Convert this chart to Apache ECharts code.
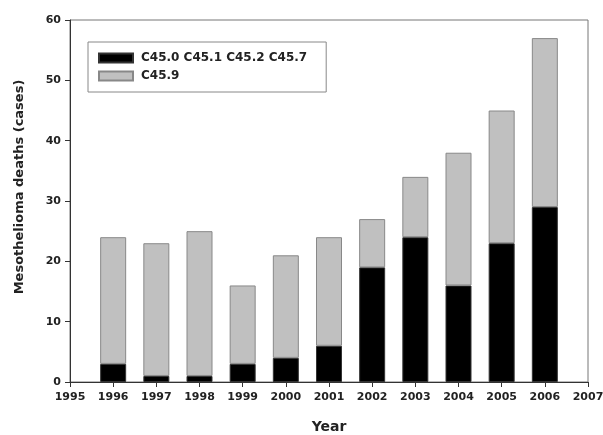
<!DOCTYPE html>
<html>
<head>
<meta charset="utf-8">
<script src="https://cdn.jsdelivr.net/npm/echarts@6/dist/echarts.min.js"></script>
<style>
  html, body { margin: 0; padding: 0; background: #fff; }
  #chart { width: 603px; height: 435px; }
</style>
</head>
<body>
<div id="chart"></div>
<script>
// axis runs 1995..2007, bars only for 1996..2006
const tickYears = ['1995', '1996', '1997', '1998', '1999', '2000', '2001', '2002', '2003', '2004', '2005', '2006', '2007'];
const years = ['1996', '1997', '1998', '1999', '2000', '2001', '2002', '2003', '2004', '2005', '2006'];
const specified = [3, 1, 1, 3, 4, 6, 19, 24, 16, 23, 29];
const unspecified = [21, 22, 24, 13, 17, 18, 8, 10, 22, 22, 28];
const seriesNames = ['C45.0 C45.1 C45.2 C45.7', 'C45.9'];

const onAxis = vals => tickYears.map(y => {
  const i = years.indexOf(y);
  return i < 0 ? '-' : vals[i];
});

const chart = echarts.init(document.getElementById('chart'));
const font = '"DejaVu Sans", Verdana, sans-serif';
const txt = '#222';

chart.setOption({
  animation: false,
  backgroundColor: '#fff',
  textStyle: { fontFamily: font },
  grid: {
    left: 70, right: 15, top: 20, bottom: 53,
    outerBoundsMode: 'none',
    show: true, borderColor: '#777', borderWidth: 1
  },
  legend: {
    orient: 'vertical',
    left: 88, top: 42,
    padding: [10, 19, 10, 10],
    itemGap: 6,
    itemWidth: 34, itemHeight: 9,
    icon: 'rect',
    borderColor: '#888', borderWidth: 1,
    textStyle: { fontFamily: font, fontSize: 12, fontWeight: 'bold', color: txt, padding: [0, 0, 0, 3] },
    data: seriesNames
  },
  xAxis: {
    type: 'category',
    data: tickYears,
    boundaryGap: false,
    name: 'Year', nameLocation: 'middle', nameGap: 38,
    nameTextStyle: { fontSize: 14, fontWeight: 'bold', color: txt },
    axisLine: { lineStyle: { color: '#333' } },
    axisTick: { length: 5, lineStyle: { color: '#333' } },
    axisLabel: { fontSize: 11, fontWeight: 'bold', color: txt, margin: 10, interval: 0 },
    splitLine: { show: false }
  },
  yAxis: {
    type: 'value',
    min: 0, max: 60, interval: 10,
    name: 'Mesothelioma deaths (cases)', nameLocation: 'middle', nameGap: 44,
    nameTextStyle: { fontSize: 13, fontWeight: 'bold', color: txt, padding: [0, 0, 0, 28] },
    axisLine: { show: true, lineStyle: { color: '#333' } },
    axisTick: { show: true, length: 5, lineStyle: { color: '#333' } },
    axisLabel: { fontSize: 11, fontWeight: 'bold', color: txt, margin: 9 },
    splitLine: { show: false }
  },
  series: [
    {
      name: seriesNames[0], type: 'bar', stack: 'total', barWidth: 26,
      data: onAxis(specified),
      itemStyle: { color: '#000', borderColor: '#333', borderWidth: 1 }
    },
    {
      name: seriesNames[1], type: 'bar', stack: 'total', barWidth: 26,
      data: onAxis(unspecified),
      itemStyle: { color: '#c0c0c0', borderColor: '#888', borderWidth: 1 }
    }
  ]
});
</script>
</body>
</html>
